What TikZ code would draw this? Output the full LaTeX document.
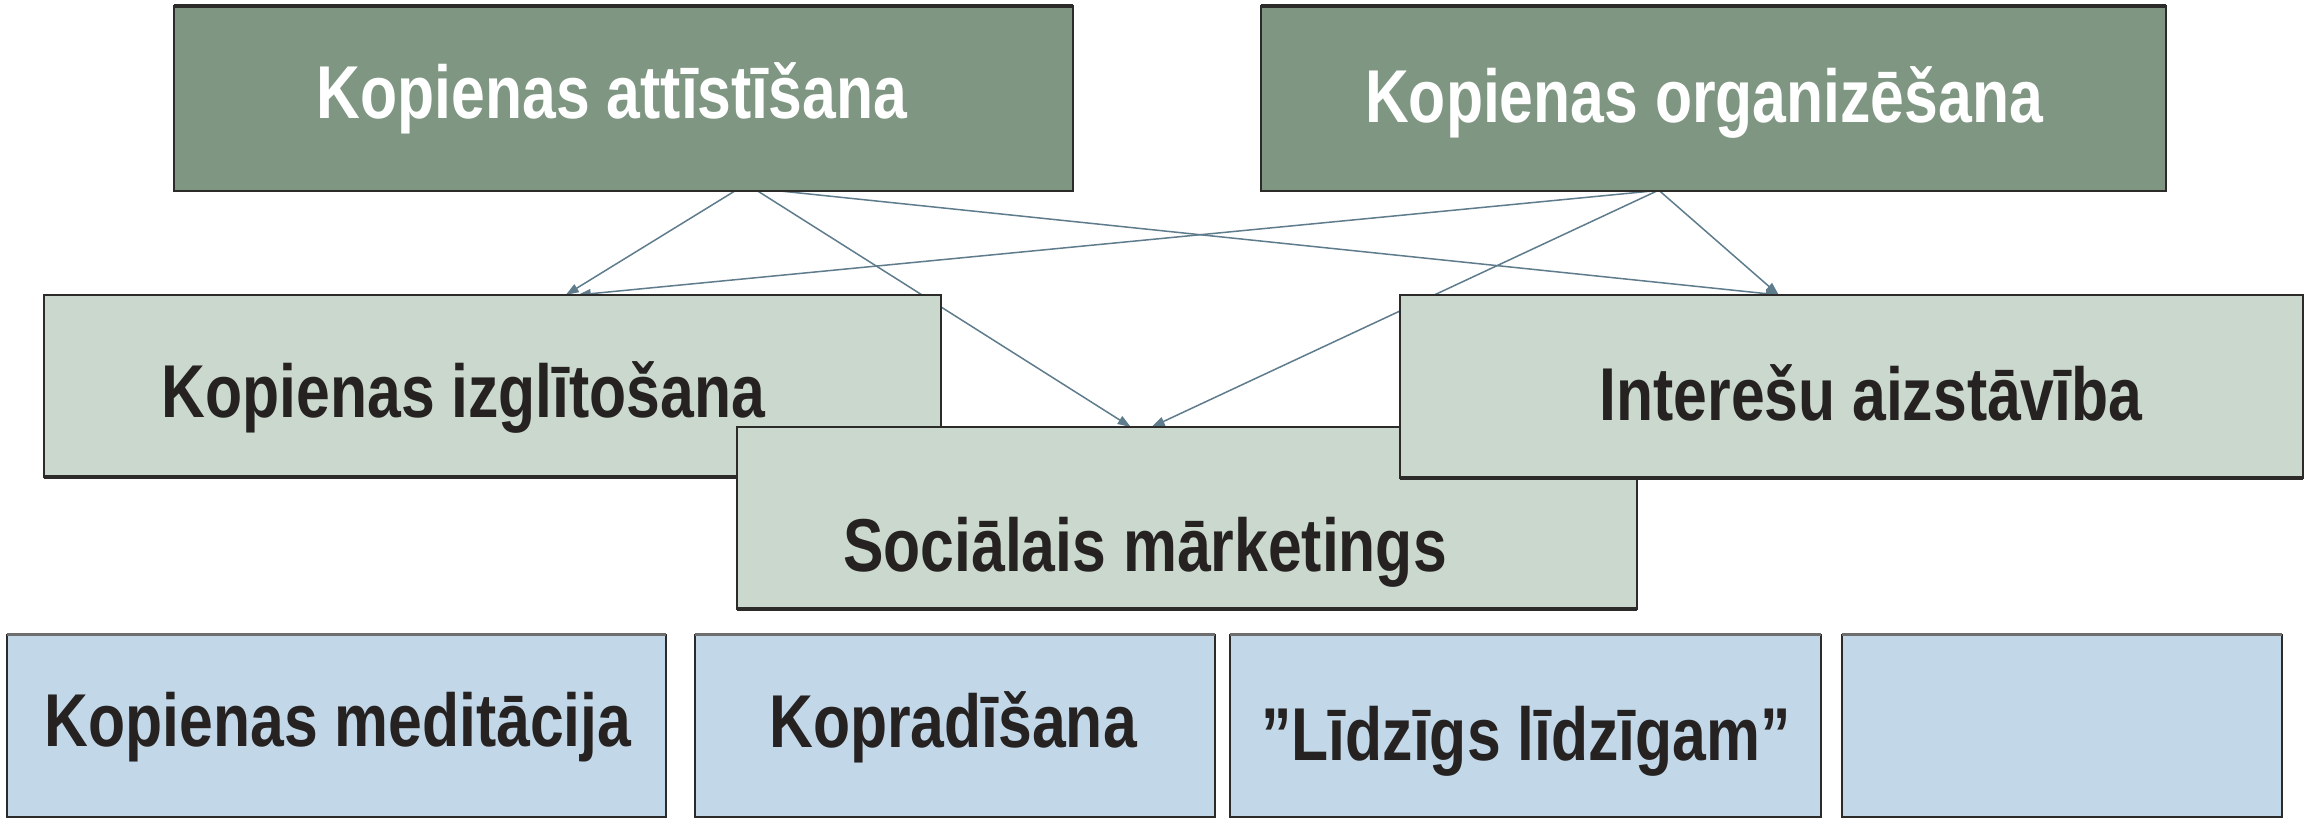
\documentclass[tikz,border=0pt]{standalone}
\usepackage{fontspec}
\newfontfamily\boxfont{Liberation Sans}[FakeStretch=0.81]
\usetikzlibrary{arrows.meta,calc}
\pgfdeclarelayer{bg}
\pgfsetlayers{bg,main}
\definecolor{topfill}{RGB}{127,151,130}
\definecolor{midfill}{RGB}{202,216,205}
\definecolor{botfill}{RGB}{194,216,232}
\definecolor{edgecol}{RGB}{45,42,42}
\definecolor{txtcol}{RGB}{38,34,34}
\definecolor{conncol}{RGB}{94,124,140}
\definecolor{greyedge}{RGB}{110,110,110}
\begin{document}
\begin{tikzpicture}[x=0.01cm,y=-0.01cm,
  box/.style={draw=edgecol,line width=0.02cm,inner sep=0pt,outer sep=0pt},
  topbox/.style={box,fill=topfill},
  midbox/.style={box,fill=midfill},
  botbox/.style={box,fill=botfill,minimum height=1.82cm},
  lbl/.style={font=\boxfont\bfseries\fontsize{21.3pt}{25pt}\selectfont,anchor=base,inner sep=0pt,text=txtcol},
  toplbl/.style={lbl,text=white},
  thicktop/.style={draw=edgecol,line width=0.035cm},
  thickbot/.style={draw=edgecol,line width=0.035cm},
  greytop/.style={draw=greyedge,line width=0.03cm},
  connector/.style={draw=conncol,line width=0.015cm,-{Triangle[length=0.13cm,width=0.09cm]}}]
\useasboundingbox (0,0) rectangle (2305,818);

% top boxes
\node[topbox,minimum width=8.99cm,minimum height=1.85cm] (A) at (623.5,98.5) {};
\draw[thicktop] (A.north west) -- (A.north east);
\node[toplbl] (At) at (612,118) {Kopienas attīstīšana};

\node[topbox,minimum width=9.05cm,minimum height=1.85cm] (B) at (1713.5,98.5) {};
\draw[thicktop] (B.north west) -- (B.north east);
\node[toplbl] (Bt) at (1704,123) {Kopienas organizēšana};

% middle boxes
\node[midbox,minimum width=8.97cm,minimum height=1.82cm] (C) at (492.5,386) {};
\draw[thickbot] (C.south west) -- (C.south east);
\node[lbl] (Ct) at (463.5,417) {Kopienas izglītošana};

\node[midbox,minimum width=9.00cm,minimum height=1.82cm] (E) at (1187,518) {};
\draw[thickbot] (E.south west) -- (E.south east);
\node[lbl] (Et) at (1145,571) {Sociālais mārketings};

\node[midbox,minimum width=9.03cm,minimum height=1.83cm] (D) at (1851.5,386.5) {};
\draw[thickbot] (D.south west) -- (D.south east);
\node[lbl] (Dt) at (1871,420) {Interešu aizstāvība};

% bottom boxes
\node[botbox,minimum width=6.59cm] (F) at (336.5,726) {};
\draw[greytop] (F.north west) -- (F.north east);
\node[lbl] (Ft) at (338,746) {Kopienas meditācija};

\node[botbox,minimum width=5.20cm] (G) at (955,726) {};
\draw[greytop] (G.north west) -- (G.north east);
\node[lbl] (Gt) at (953,747) {Kopradīšana};

\node[botbox,minimum width=5.91cm] (H) at (1525.5,726) {};
\draw[greytop] (H.north west) -- (H.north east);
\node[lbl] (Ht) at (1526,760) {”Līdzīgs līdzīgam”};

\node[botbox,minimum width=4.39cm] (I) at (2062,726) {};
\draw[greytop] (I.north west) -- (I.north east);

% connectors (behind the boxes)
\begin{pgfonlayer}{bg}
\fill[white] (0,0) rectangle (2305,818);
\draw[connector] ($(A.south west)+(561,0)$) -- ($(C.north west)+(522,0)$);
\draw[connector] ($(A.south west)+(584,0)$) -- ($(E.north west)+(394,0)$);
\draw[connector] ($(A.south west)+(607,0)$) -- ($(D.north west)+(379,0)$);
\draw[connector] ($(B.south west)+(399,0)$) -- ($(D.north west)+(379,0)$);
\draw[connector] ($(B.south west)+(396,0)$) -- ($(E.north west)+(415,0)$);
\draw[connector] ($(B.south west)+(391,0)$) -- ($(C.north west)+(534,0)$);
\end{pgfonlayer}
\end{tikzpicture}
\end{document}
